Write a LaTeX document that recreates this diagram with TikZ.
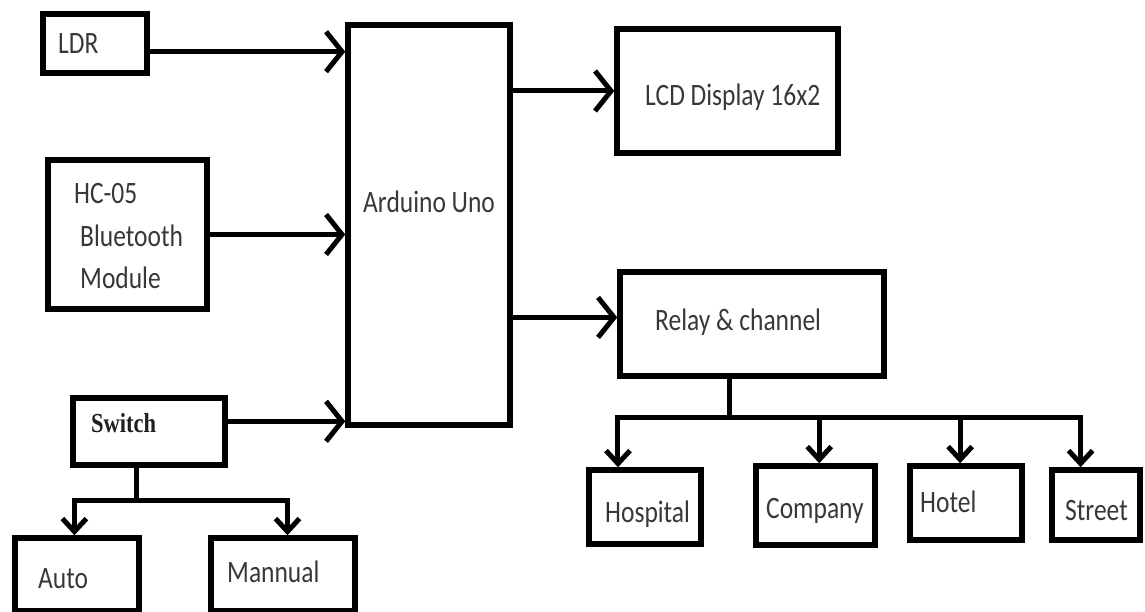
\documentclass[tikz,border=0pt]{standalone}
\usepackage{fontspec}
\setmainfont{Carlito}
\newfontfamily\swfont{Liberation Serif}
\usepackage{graphicx}
\usetikzlibrary{arrows.meta,calc}
\newcommand{\stx}[1]{\scalebox{1}[1.22]{#1}}
\begin{document}
\begin{tikzpicture}[x=1pt,y=-1pt,
  box/.style={draw=black, line width=5.5pt, inner sep=0pt},
  lbl/.style={anchor=base west, inner sep=0pt, text=black!78, font=\fontsize{25.5}{30}\selectfont},
  conn/.style={line width=5pt, draw=black},
  arr/.style={conn, -{Straight Barb[length=16pt,width=40pt]}},
  darr/.style={conn, -{Straight Barb[length=13pt,width=24pt]}}
]
\useasboundingbox (0,0) rectangle (1145,612);
\fill[white] (0,0) rectangle (1145,612);

% boxes
\node[box, minimum width=104pt, minimum height=59pt]  (ldr)    at (95,43.5) {};
\node[box, minimum width=159pt, minimum height=149pt] (hc)     at (127.5,234.5) {};
\node[box, minimum width=152pt, minimum height=67pt]  (sw)     at (149,431.5) {};
\node[box, minimum width=124pt, minimum height=73pt]  (auto)   at (77,574.5) {};
\node[box, minimum width=144pt, minimum height=73pt]  (man)    at (283,574.5) {};
\node[box, minimum width=162pt, minimum height=400pt] (ard)    at (429,225) {};
\node[box, minimum width=221pt, minimum height=124pt] (lcd)    at (727.5,91) {};
\node[box, minimum width=264pt, minimum height=104pt] (rel)    at (752,324) {};
\node[box, minimum width=112pt, minimum height=74pt]  (hosp)   at (645,507) {};
\node[box, minimum width=119pt, minimum height=79pt]  (comp)   at (815.5,505.5) {};
\node[box, minimum width=112pt, minimum height=74pt]  (hotel)  at (966,503) {};
\node[box, minimum width=88pt,  minimum height=70pt]  (street) at (1096,505) {};

% labels
\node[lbl] (ldrT)  at (58,54)   {\stx{LDR}};
\node[lbl] (hcT1)  at (74,204)  {\stx{HC-05}};
\node[lbl] (hcT2)  at (80,247)  {\stx{Bluetooth}};
\node[lbl] (hcT3)  at (80,288)  {\stx{Module}};
\node[lbl] (ardT)  at (363,213) {\stx{Arduino Uno}};
\node[lbl] (lcdT)  at (645,106) {\stx{LCD Display 16x2}};
\node[lbl] (relT)  at (655,330) {\stx{Relay \& channel}};
\node[lbl, text=black!88, font=\swfont\bfseries\fontsize{22.5}{27}\selectfont] (swT) at (91,432) {\stx{Switch}};
\node[lbl] (autoT) at (38,588)  {\stx{Auto}};
\node[lbl] (manT)  at (227,582) {\stx{Mannual}};
\node[lbl] (hospT) at (605,522) {\stx{Hospital}};
\node[lbl] (compT) at (766,518) {\stx{Company}};
\node[lbl] (hotT)  at (920,512) {\stx{Hotel}};
\node[lbl] (strT)  at (1065,520) {\stx{Street}};

% inputs to Arduino
\coordinate (ldrO) at ($(ldr.north east)!0.627!(ldr.south east)$);
\draw[arr] (ldrO) -- (ldrO -| ard.west);
\draw[arr] (hc.east) -- (hc.east -| ard.west);
\coordinate (swO) at ($(sw.north east)!0.36!(sw.south east)$);
\draw[arr] (swO) -- (swO -| ard.west);

% outputs of Arduino
\draw[arr] (lcd.west -| ard.east) -- (lcd.west);
\coordinate (relI) at ($(rel.north west)!0.44!(rel.south west)$);
\draw[arr] (relI -| ard.east) -- (relI);

% switch tree
\coordinate (swB) at ($(sw.south west)!0.42!(sw.south east)$);
\coordinate (swJ) at ($(swB)+(0,33)$);
\coordinate (autoI) at ($(auto.north west)!0.48!(auto.north east)$);
\coordinate (manI) at ($(man.north west)!0.53!(man.north east)$);
\draw[conn] (swB) -- (swJ);
\draw[darr] (swJ) -| (autoI);
\draw[darr] (swJ) -| (manI);

% relay tree
\coordinate (relB) at ($(rel.south west)!0.417!(rel.south east)$);
\coordinate (relJ) at ($(relB)+(0,39)$);
\draw[conn] (relB) -- (relJ);
\foreach \n/\f in {hosp/0.27, comp/0.53, hotel/0.45, street/0.335}{
  \coordinate (\n-in) at ($(\n.north west)!\f!(\n.north east)$);
  \draw[darr] (relJ) -| (\n-in);
}
\end{tikzpicture}
\end{document}
